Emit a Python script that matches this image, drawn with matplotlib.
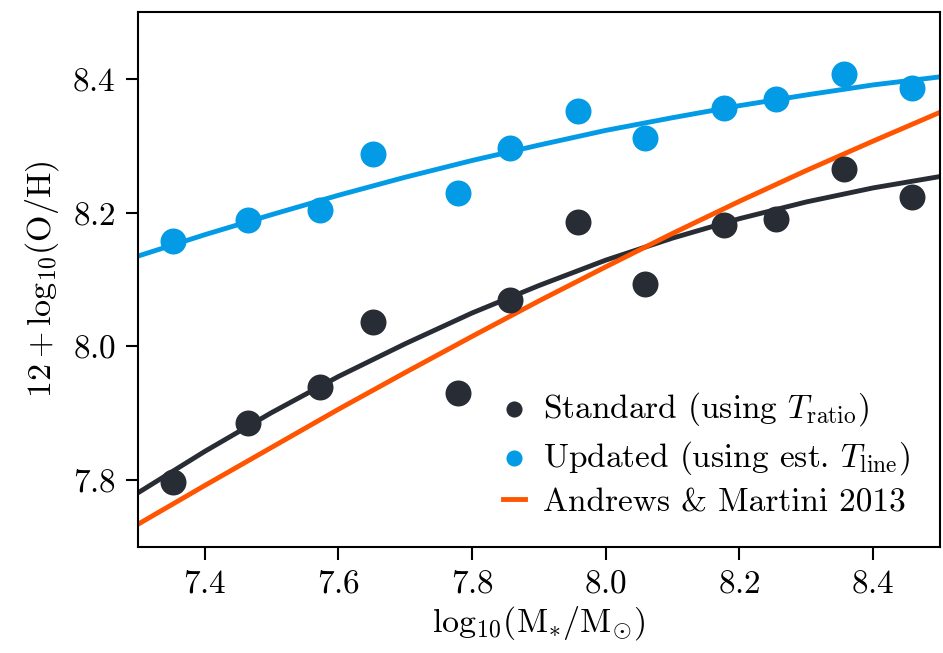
import matplotlib
matplotlib.use("Agg")
import matplotlib.pyplot as plt

plt.rcParams['font.family'] = 'serif'
plt.rcParams['font.serif'] = ['cmr10']
plt.rcParams['mathtext.fontset'] = 'cm'
plt.rcParams['axes.formatter.use_mathtext'] = True

# binned stellar mass
mass = [7.353, 7.465, 7.573, 7.651, 7.779, 7.857, 7.959, 8.058, 8.177, 8.254, 8.357, 8.458]
# metallicities
oh_standard = [7.797, 7.886, 7.939, 8.037, 7.931, 8.070, 8.186, 8.094, 8.182, 8.190, 8.265, 8.223]
oh_updated = [8.157, 8.189, 8.204, 8.287, 8.229, 8.297, 8.352, 8.311, 8.357, 8.370, 8.407, 8.386]

# fit curves / literature relation
curve_mass = [7.3, 7.4, 7.5, 7.6, 7.7, 7.8, 7.9, 8.0, 8.1, 8.2, 8.3, 8.4, 8.5]
fit_standard = [7.781, 7.843, 7.901, 7.955, 8.004, 8.050, 8.091, 8.129, 8.162, 8.191, 8.216, 8.237, 8.254]
fit_updated = [8.135, 8.167, 8.197, 8.226, 8.253, 8.278, 8.301, 8.323, 8.342, 8.360, 8.376, 8.391, 8.403]
am13 = [7.734, 7.792, 7.849, 7.906, 7.961, 8.015, 8.068, 8.119, 8.169, 8.217, 8.263, 8.307, 8.350]

c_black = '#282c34'
c_blue = '#039be5'
c_orange = '#ff5500'

fig = plt.figure(figsize=(9.43, 6.53), dpi=100)
ax = fig.add_axes([0.1463, 0.1623, 0.8505, 0.8193])

ax.plot(curve_mass, fit_standard, color=c_black, lw=3.5, zorder=2)
ax.plot(curve_mass, fit_updated, color=c_blue, lw=3.5, zorder=2)
ax.plot(curve_mass, am13, color=c_orange, lw=3.5, zorder=2, label='Andrews & Martini 2013')
ax.scatter(mass, oh_standard, s=350, color=c_black, lw=0, zorder=3,
           label=r'Standard (using $T_{\rm ratio}$)')
ax.scatter(mass, oh_updated, s=350, color=c_blue, lw=0, zorder=3,
           label=r'Updated (using est. $T_{\rm line}$)')

ax.set_xlim(7.3, 8.5)
ax.set_ylim(7.7, 8.5)
ax.set_xticks([7.4, 7.6, 7.8, 8.0, 8.2, 8.4])
ax.set_yticks([7.8, 8.0, 8.2, 8.4])
ax.tick_params(direction='out', length=9, width=1.5, labelsize=24, pad=7)
for s in ax.spines.values():
    s.set_linewidth(1.5)

ax.set_xlabel(r'$\mathrm{log}_{10}(\mathrm{M}_{*}/\mathrm{M}_{\odot})$', fontsize=24.5, labelpad=4)
ax.set_ylabel(r'$12 + \mathrm{log}_{10}(\mathrm{O/H})$', fontsize=24.5, labelpad=8)

h, l = ax.get_legend_handles_labels()
order = [1, 2, 0]
ax.legend([h[i] for i in order], [l[i] for i in order], frameon=False, fontsize=24,
          markerscale=0.62, handlelength=0.65, handletextpad=0.55, labelspacing=0.32,
          loc='lower right', bbox_to_anchor=(1.0, 0.0))

fig.savefig('out.png', dpi=100)
